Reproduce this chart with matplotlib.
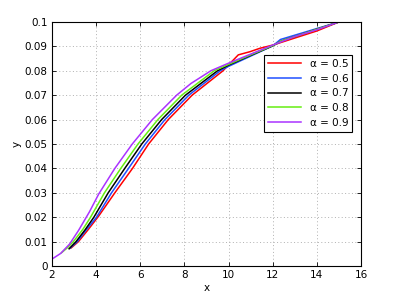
import numpy as np
import matplotlib
matplotlib.use("Agg")
import matplotlib.pyplot as plt

# curves (x, y) for each alpha
alphas = [0.5, 0.6, 0.7, 0.8, 0.9]
colors = ["#ff0000", "#1f4fff", "#000000", "#66ee11", "#aa33ff"]

x_05 = [2.88, 3.20, 3.65, 4.12, 4.85, 5.65, 6.38, 7.27, 8.35, 9.75, 10.14, 10.44, 10.97, 11.42, 12.0, 14.0, 15.0]
y_05 = [0.0075, 0.010, 0.015, 0.0205, 0.030, 0.040, 0.050, 0.060, 0.070, 0.080, 0.0837, 0.0865, 0.0878, 0.0892, 0.0905, 0.0963, 0.100]
x_06 = [2.82, 3.15, 3.57, 4.02, 4.70, 5.47, 6.23, 7.12, 8.20, 9.62, 10.0, 11.0, 12.0, 12.35, 15.0]
y_06 = [0.0073, 0.010, 0.015, 0.020, 0.030, 0.040, 0.050, 0.060, 0.070, 0.080, 0.0818, 0.0860, 0.0902, 0.0928, 0.100]
x_07 = [2.78, 3.09, 3.50, 3.90, 4.55, 5.30, 6.07, 6.97, 8.05, 9.50, 10.0, 11.0, 12.0, 12.4, 15.0]
y_07 = [0.0071, 0.010, 0.0148, 0.020, 0.030, 0.040, 0.050, 0.060, 0.070, 0.080, 0.0823, 0.0863, 0.0902, 0.0922, 0.100]
x_08 = [2.44, 2.70, 2.97, 3.40, 3.75, 4.38, 5.12, 5.90, 6.80, 7.88, 9.35, 10.0, 11.0, 12.0, 12.4, 15.0]
y_08 = [0.0055, 0.0075, 0.010, 0.015, 0.020, 0.030, 0.040, 0.050, 0.060, 0.070, 0.080, 0.0826, 0.0865, 0.0903, 0.0922, 0.100]
x_09 = [2.06, 2.40, 2.80, 3.20, 3.70, 4.12, 4.85, 5.64, 6.55, 7.65, 8.30, 9.20, 10.0, 11.0, 12.0, 13.0, 14.0, 15.0]
y_09 = [0.0032, 0.0052, 0.0090, 0.0145, 0.0222, 0.0295, 0.040, 0.050, 0.060, 0.070, 0.0748, 0.080, 0.0831, 0.0868, 0.0905, 0.0940, 0.0968, 0.100]

series = [(x_05, y_05), (x_06, y_06), (x_07, y_07), (x_08, y_08), (x_09, y_09)]

plt.rcParams.update({"font.family": "DejaVu Sans", "font.size": 7.5,
                     "xtick.direction": "in", "ytick.direction": "in",
                     "xtick.top": True, "ytick.right": True})

fig = plt.figure(figsize=(3.99, 3.0), dpi=100)
ax = fig.add_axes([0.130, 0.113, 0.775, 0.814])

for (xs, ys), a, c in zip(series, alphas, colors):
    ax.plot(xs, ys, color=c, lw=1.1, label=f"α = {a}")

ax.set_xlim(2, 16); ax.set_ylim(0, 0.1)
ax.set_xticks(np.arange(2, 17, 2))
ax.set_yticks(np.arange(0, 0.101, 0.01))
ax.set_yticklabels(["0"] + [f"{v:.2f}" for v in np.arange(0.01, 0.095, 0.01)] + ["0.1"])
ax.grid(True, ls=(0, (1, 2.5)), color="#b0b0b0", lw=0.7)
for s in ax.spines.values():
    s.set_linewidth(0.8)
ax.tick_params(length=3, width=0.6, pad=3)
ax.set_xlabel("x", labelpad=2)
ax.set_ylabel("y", labelpad=2)

leg = ax.legend(loc="upper right", bbox_to_anchor=(0.972, 0.865), fontsize=7.5,
                fancybox=False, edgecolor="black", handlelength=3.2,
                borderaxespad=0, labelspacing=0.45, framealpha=1)
leg.get_frame().set_linewidth(0.8)

fig.savefig("out.png", dpi=100)
